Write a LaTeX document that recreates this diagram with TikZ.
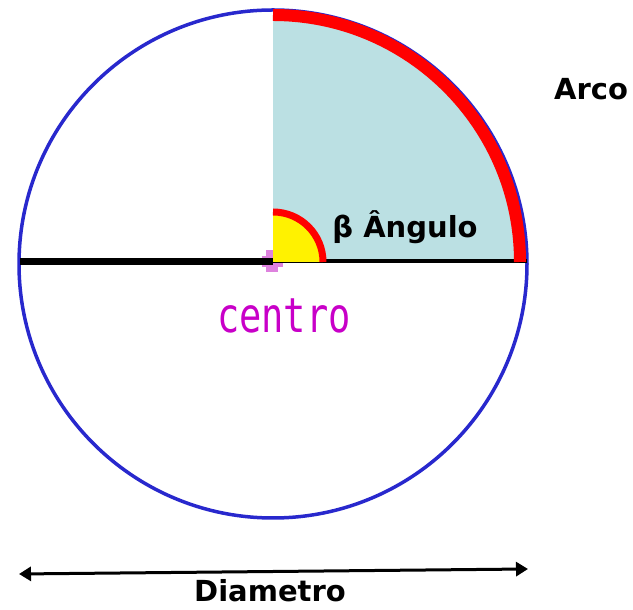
\documentclass[tikz,border=0pt]{standalone}
\usepackage{fontspec}
\setmainfont{DejaVu Sans}
\newfontfamily\monof{DejaVu Sans Mono}
\usetikzlibrary{arrows.meta}
\definecolor{sectorblue}{RGB}{187,224,227}
\definecolor{circblue}{RGB}{40,40,205}
\definecolor{magent}{RGB}{200,0,200}
\definecolor{pinkmark}{RGB}{222,130,222}
\tikzset{
  lbl/.style={font=\bfseries\fontsize{29}{33}\selectfont, text=black, inner sep=0pt},
}
\begin{document}
\begin{tikzpicture}[x=1pt,y=1pt]
\useasboundingbox (0,0) rectangle (633,610);
% center marker
\coordinate (O) at (273,348);
\fill[pinkmark] (266,338) rectangle (278,360);
\fill[pinkmark] (262,343) rectangle (283,354);
% quarter sector
\fill[sectorblue] (O) -- ++(0:246) arc[start angle=0,end angle=90,radius=246] -- cycle;
% circle
\node[draw=circblue, line width=3.5pt, circle, minimum size=508pt, inner sep=0pt] (circ) at (273,346) {};
% radii
\coordinate (L) at (20,348);
\coordinate (R) at (527,349);
\draw[line width=7pt] (L) -- (O);
\draw[line width=3.2pt] ([yshift=1pt]O) -- (R);
% arc
\draw[red, line width=12pt] ([xshift=247pt]O) arc[start angle=0,end angle=90,radius=247];
% angle
\fill[yellow] (O) -- ++(0:50) arc[start angle=0,end angle=90,radius=50] -- cycle;
\draw[red, line width=7pt] ([xshift=50pt]O) arc[start angle=0,end angle=90,radius=50];
% labels
\node[lbl] (ang) at (405,383) {β Ângulo};
\node[lbl] (arco) at (591,521) {Arco};
\node[inner sep=0pt, text=magent] (centro) at (284,294) {\scalebox{1}[1.3]{\monof\fontsize{37}{40}\selectfont centro}};
% diameter
\coordinate (dA) at (19,36);
\coordinate (dB) at (528,41);
\draw[line width=3pt, {Triangle[length=12pt,width=14pt]}-{Triangle[length=12pt,width=14pt]}] (dA) -- (dB);
\node[lbl] (diam) at (270,19) {Diametro};
\end{tikzpicture}
\end{document}
